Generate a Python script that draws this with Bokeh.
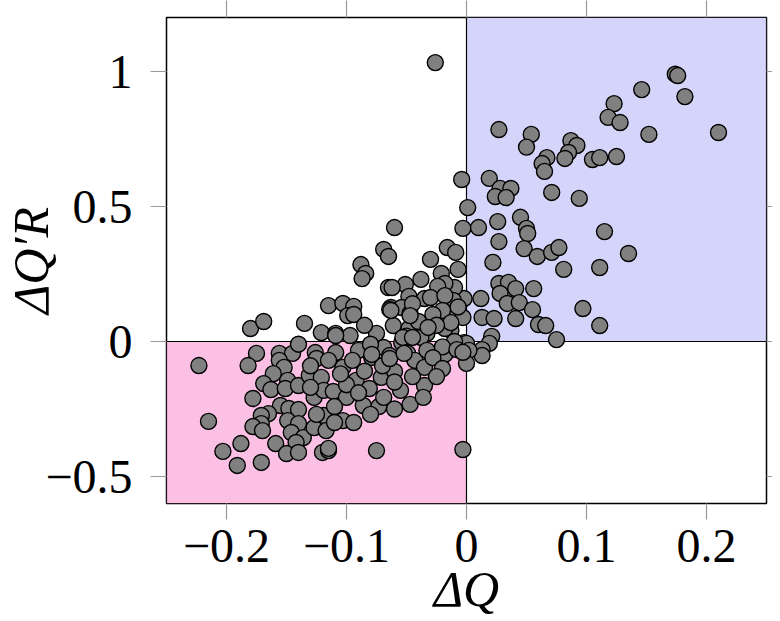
from bokeh.plotting import figure
from bokeh.models import FixedTicker, CustomJSTickFormatter, LinearAxis, ColumnDataSource
from bokeh.embed import file_html
from bokeh.resources import INLINE

# ---- data ----
dq = [
    0.174, 0.176, 0.146, 0.182, 0.123, 0.118, 0.128, 0.152, 0.210, 0.027,
    0.054, 0.050, 0.087, 0.092, 0.085, 0.082, 0.067, 0.063, 0.065, 0.105,
    0.111, 0.125, 0.019, -0.004, 0.028, 0.037, 0.024, 0.033, 0.071, 0.094,
    0.001, -0.003, 0.010, 0.026, 0.045, 0.050, 0.051, 0.115, 0.135, 0.027,
    0.048, 0.059, 0.071, 0.077, 0.081, 0.111, 0.022, -0.016, -0.009, -0.007,
    -0.021, 0.027, 0.035, 0.028, 0.041, 0.056, 0.034, 0.044, 0.055, 0.041,
    0.060, 0.066, 0.075, 0.097, 0.111, 0.012, 0.013, 0.023, 0.021, 0.019,
    -0.002, -0.010, -0.018, -0.011, -0.011, -0.003, -0.013, -0.018, -0.002, 0.013,
    0.013, 0.000, 0.002, 0.000, -0.003, -0.026, -0.060, -0.069, -0.065, -0.088,
    -0.084, -0.087, -0.030, -0.038, -0.051, -0.065, -0.062, -0.048, -0.024, -0.035,
    -0.030, -0.018, -0.115, -0.103, -0.094, -0.063, -0.054, -0.180, -0.169, -0.135,
    -0.121, -0.223, -0.175, -0.182, -0.156, -0.145, -0.156, -0.152, -0.161, -0.149,
    -0.169, -0.163, -0.151, -0.140, -0.178, -0.126, -0.125, -0.131, -0.121, -0.127,
    -0.119, -0.155, -0.148, -0.140, -0.165, -0.171, -0.171, -0.178, -0.170, -0.149,
    -0.140, -0.146, -0.136, -0.142, -0.127, -0.119, -0.117, -0.215, -0.188, -0.203,
    -0.191, -0.171, -0.159, -0.150, -0.140, -0.120, -0.115, -0.099, -0.094, -0.064,
    -0.047, -0.061, -0.048, -0.040, -0.033, -0.038, -0.109, -0.097, -0.109, -0.090,
    -0.079, -0.069, -0.064, -0.054, -0.049, -0.043, -0.033, -0.035, -0.018, -0.103,
    -0.092, -0.081, -0.071, -0.060, -0.055, -0.035, -0.111, -0.100, -0.086, -0.073,
    -0.069, -0.047, -0.036, -0.110, -0.103, -0.094, -0.115, -0.075,
    -0.007, -0.020, -0.028, -0.045, -0.013, -0.025, -0.010, -0.020, -0.028, -0.008,
    -0.050, -0.075, -0.085, -0.080, -0.095, -0.070, -0.045, -0.085, -0.060, -0.100,
    -0.130, -0.140, -0.115, -0.105, -0.130, -0.090, -0.110, -0.125, -0.080, -0.060,
    -0.020, -0.025,
    -0.047, -0.032, -0.053, -0.045, -0.079, -0.003, -0.064, -0.052, -0.109, -0.063,
]
dq_r = [
    0.990, 0.985, 0.933, 0.907, 0.881, 0.830, 0.811, 0.767, 0.774, 0.785,
    0.767, 0.720, 0.744, 0.726, 0.700, 0.678, 0.681, 0.659, 0.630, 0.674,
    0.681, 0.685, 0.604, 0.600, 0.567, 0.567, 0.537, 0.533, 0.552, 0.530,
    0.496, 0.419, 0.422, 0.444, 0.460, 0.419, 0.400, 0.407, 0.326, 0.370,
    0.344, 0.315, 0.330, 0.348, 0.267, 0.274, 0.293, 0.348, 0.330, 0.267,
    0.252, 0.215, 0.219, 0.178, 0.196, 0.196, 0.141, 0.144, 0.118, 0.085,
    0.063, 0.059, 0.007, 0.122, 0.059, 0.159, 0.089, 0.085, 0.019, -0.007,
    0.159, 0.200, 0.215, 0.152, 0.104, 0.089, 0.041, 0.048, -0.004, -0.030,
    -0.052, -0.007, -0.033, -0.081, -0.400, 1.033, 0.422, 0.341, 0.315, 0.285,
    0.252, 0.233, 0.304, 0.230, 0.211, 0.200, 0.200, 0.167, 0.204, 0.159,
    0.163, 0.170, 0.133, 0.141, 0.130, 0.126, 0.126, 0.048, 0.074, 0.067,
    0.033, -0.089, -0.044, -0.089, -0.044, -0.044, -0.070, -0.096, -0.119, -0.144,
    -0.156, -0.178, -0.174, -0.163, -0.211, -0.041, -0.063, -0.126, -0.133, -0.207,
    -0.181, -0.237, -0.248, -0.252, -0.267, -0.274, -0.304, -0.315, -0.330, -0.293,
    -0.304, -0.337, -0.356, -0.374, -0.319, -0.274, -0.330, -0.296, -0.378, -0.407,
    -0.459, -0.448, -0.378, -0.415, -0.411, -0.411, -0.404, 0.096, 0.100, 0.119,
    0.104, 0.059, 0.048, 0.074, 0.030, 0.015, 0.030, 0.022, -0.041, -0.033,
    -0.059, -0.022, -0.052, -0.004, -0.044, -0.070, -0.033, -0.096, -0.048, -0.096,
    -0.144, -0.174, -0.133, -0.111, -0.181, -0.163, -0.185, -0.207, -0.237, -0.241,
    -0.207, -0.233, -0.207, -0.241, -0.293, -0.300, -0.396, -0.404,
    0.128, 0.115, 0.100, 0.140, 0.070, 0.060, 0.000, -0.020, -0.060, -0.030,
    0.020, 0.030, 0.060, -0.010, -0.070, -0.090, -0.130, -0.110, -0.150, -0.160,
    -0.090, -0.010, -0.070, -0.120, -0.170, -0.190, -0.300, -0.270, -0.270, -0.250,
    -0.100, -0.130,
    0.096, 0.052, 0.015, 0.015, -0.048, -0.040, -0.063, -0.044, 0.022, 0.115,
]
x_ticks = [-0.2, -0.1, 0.0, 0.1, 0.2]
y_ticks = [-0.5, 0.0, 0.5, 1.0]
x_lim = (-0.25, 0.25)
y_lim = (-0.6, 1.2)
x_title = "ΔQ"
y_title = "ΔQ′R"

FONT = "Liberation Serif"
TICK_COLOR = "#9a9a9a"

p = figure(width=772, height=621, x_range=x_lim, y_range=y_lim,
           output_backend="svg", toolbar_location=None,
           x_axis_location=None, y_axis_location=None,
           min_border_left=166, min_border_right=6, min_border_top=17, min_border_bottom=118)
p.xgrid.visible = False
p.ygrid.visible = False
p.outline_line_color = "black"
p.outline_line_width = 1.5
p.background_fill_color = "white"

fmt = CustomJSTickFormatter(code="""
let v = Math.round(tick*10)/10;
if (Math.abs(v) < 1e-9) return "0";
return String(v).replace("-", "\u2212");
""")

def main_axis(ticks, title, standoff, title_standoff):
    ax = LinearAxis(ticker=FixedTicker(ticks=ticks), formatter=fmt)
    ax.axis_line_color = None
    ax.major_tick_line_color = TICK_COLOR
    ax.major_tick_line_width = 1.2
    ax.major_tick_in = 0
    ax.major_tick_out = 16
    ax.minor_tick_line_color = None
    ax.major_label_text_font = FONT
    ax.major_label_text_font_size = "48px"
    ax.major_label_text_color = "black"
    ax.major_label_standoff = standoff
    ax.axis_label = title
    ax.axis_label_text_font = FONT
    ax.axis_label_text_font_size = "50px"
    ax.axis_label_text_font_style = "italic"
    ax.axis_label_text_color = "black"
    ax.axis_label_standoff = title_standoff
    return ax

def tick_only_axis(ticks, out):
    ax = LinearAxis(ticker=FixedTicker(ticks=[], minor_ticks=ticks))
    ax.axis_line_color = None
    ax.major_tick_line_color = None
    ax.minor_tick_line_color = TICK_COLOR
    ax.minor_tick_line_width = 1.2
    ax.minor_tick_in = 0
    ax.minor_tick_out = out
    ax.major_label_standoff = 0
    return ax

p.add_layout(main_axis(x_ticks, x_title, 10, -4), "below")
p.add_layout(main_axis(y_ticks, y_title, 18, -17), "left")
p.add_layout(tick_only_axis(x_ticks, 17), "above")
p.add_layout(tick_only_axis(y_ticks, 6), "right")

# quadrants
p.quad(left=[0], right=[x_lim[1]], bottom=[0], top=[y_lim[1]],
       fill_color="#d5d5fc", line_color="black", line_width=1.2)
p.quad(left=[x_lim[0]], right=[0], bottom=[y_lim[0]], top=[0],
       fill_color="#fcc0e5", line_color="black", line_width=1.2)

src = ColumnDataSource(dict(x=dq, y=dq_r))
p.scatter("x", "y", source=src, size=16, fill_color="#808080",
          line_color="black", line_width=1.4)

open("out.html", "w").write(file_html(p, INLINE))
